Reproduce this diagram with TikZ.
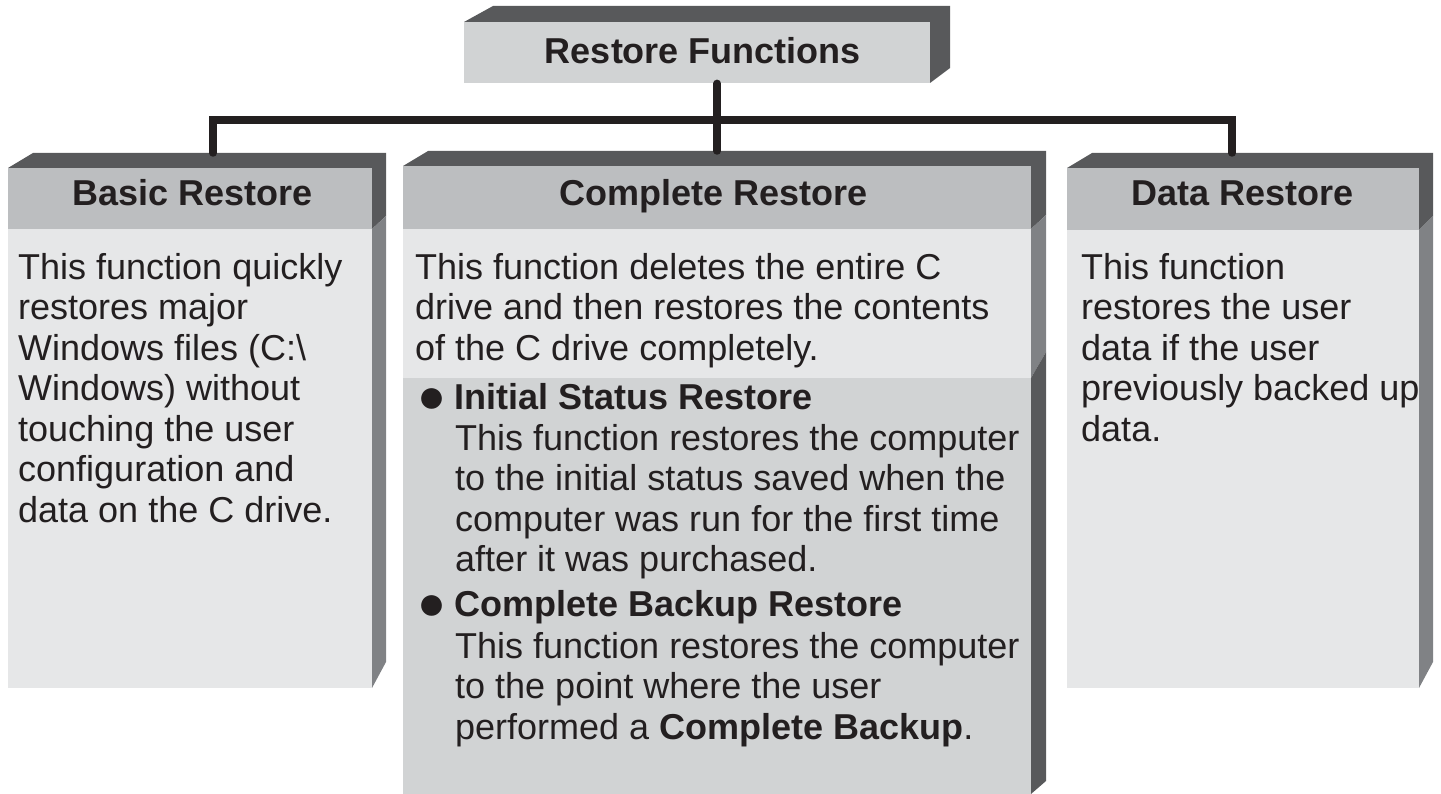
\documentclass[tikz,border=0pt]{standalone}
\usepackage{fontspec}
\setmainfont{Liberation Sans}
\definecolor{ink}{HTML}{231F20}
\definecolor{dark}{HTML}{58595B}
\definecolor{mid}{HTML}{808285}
\definecolor{hdr}{HTML}{BCBEC0}
\definecolor{bodyc}{HTML}{E6E7E8}
\definecolor{lightc}{HTML}{D1D3D4}
\newcommand{\bigbullet}{\raisebox{-3pt}{\fontsize{48}{40.5}\selectfont ●}}
\tikzset{
  conn/.style={draw=ink, line width=7.5pt, line cap=round, line join=miter},
  txt/.style={inner sep=0pt, anchor=north west, align=left, text=ink,
    font=\fontsize{36}{40.5}\selectfont},
  hd/.style={inner sep=0pt, anchor=base, text=ink,
    font=\fontsize{36}{40.5}\selectfont\bfseries},
  face/.style={inner sep=0pt, anchor=north west, draw=none}
}
\begin{document}
\begin{tikzpicture}[x=1pt,y=-1pt]
\useasboundingbox (0,0) rectangle (1441,794);

% ---------- top box ----------
\fill[dark] (464,22) -- (493,6) -- (950,6) -- (950,68) -- (930,83) -- (930,22) -- cycle;
\fill[lightc] (464,22) rectangle (930,83);
\node[face, minimum width=466pt, minimum height=61pt] (rf) at (464,22) {};
\node[hd] (rft) at (703,64) {Restore Functions};

% ---------- basic restore ----------
\fill[dark] (8,168) -- (33,153) -- (386,153) -- (386,216) -- (372,229) -- (372,168) -- cycle;
\fill[mid] (372,229) -- (386,216) -- (386,662) -- (372,688) -- cycle;
\fill[hdr] (8,168) rectangle (372,229);
\fill[bodyc] (8,229) rectangle (372,688);
\node[face, minimum width=364pt, minimum height=520pt] (br) at (8,168) {};
\node[hd] (brt) at (193,206) {Basic Restore};
\node[txt] (brb) at (18,253) {This function quickly\\restores major\\Windows files (C:\textbackslash\\Windows) without\\touching the user\\configuration and\\data on the C drive.};

% ---------- complete restore ----------
\fill[dark] (403,166) -- (428,151) -- (1046,151) -- (1046,215) -- (1031,229) -- (1031,166) -- cycle;
\fill[mid] (1031,229) -- (1046,215) -- (1046,352) -- (1031,378) -- cycle;
\fill[dark] (1031,378) -- (1046,352) -- (1046,781) -- (1031,794) -- cycle;
\fill[hdr] (403,166) rectangle (1031,229);
\fill[bodyc] (403,229) rectangle (1031,378);
\fill[lightc] (403,378) rectangle (1031,794);
\node[face, minimum width=628pt, minimum height=628pt] (cr) at (403,166) {};
\node[hd] (crt) at (714,206) {Complete Restore};
\node[txt] (crb) at (415,253) {This function deletes the entire C\\drive and then restores the contents\\of the C drive completely.};
\node[txt, anchor=base west] (b1) at (417,409) {\bigbullet\hspace{0.22em}\textbf{Initial Status Restore}};
\node[txt] (b1t) at (455,424) {This function restores the computer\\to the initial status saved when the\\computer was run for the first time\\after it was purchased.};
\node[txt, anchor=base west] (b2) at (417,616) {\bigbullet\hspace{0.22em}\textbf{Complete Backup Restore}};
\node[txt] (b2t) at (455,632) {This function restores the computer\\to the point where the user\\performed a \textbf{Complete Backup}.};

% ---------- data restore ----------
\fill[dark] (1067,168) -- (1092,153) -- (1433,153) -- (1433,216) -- (1419,230) -- (1419,168) -- cycle;
\fill[mid] (1419,230) -- (1433,216) -- (1433,662) -- (1419,688) -- cycle;
\fill[hdr] (1067,168) rectangle (1419,230);
\fill[bodyc] (1067,230) rectangle (1419,688);
\node[face, minimum width=352pt, minimum height=520pt] (dr) at (1067,168) {};
\node[hd] (drt) at (1243,206) {Data Restore};
\node[txt] (drb) at (1081,253) {This function\\restores the user\\data if the user\\previously backed up\\data.};

% ---------- connectors ----------
\coordinate (cdrop) at ([yshift=15pt]cr.north);
\coordinate (bdrop) at ([xshift=23pt,yshift=15pt]br.north);
\coordinate (ddrop) at ([xshift=-11pt,yshift=15pt]dr.north);
\coordinate (bus) at (717,120);
\draw[conn] (rf.south -| cdrop) -- (cdrop);
\draw[conn] (bdrop) -- (bdrop |- bus) -- (ddrop |- bus) -- (ddrop);
\end{tikzpicture}
\end{document}
